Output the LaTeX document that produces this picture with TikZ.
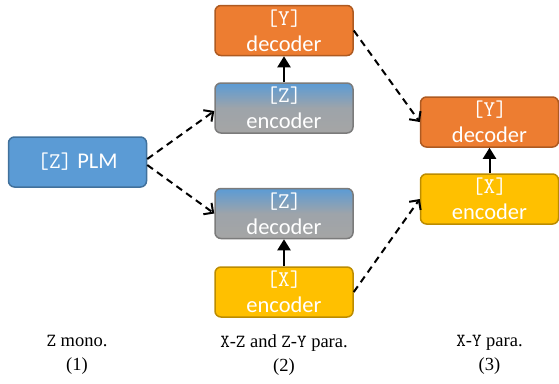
\documentclass[tikz,border=0pt]{standalone}
\usepackage{fontspec}
\setmainfont{Liberation Serif}
\newfontfamily\calib{Carlito}
\usetikzlibrary{arrows.meta}
\definecolor{plmblue}{HTML}{5B9BD5}
\definecolor{plmbluedk}{HTML}{41719C}
\definecolor{dorange}{HTML}{ED7D31}
\definecolor{dorangedk}{HTML}{AE5A21}
\definecolor{eyellow}{HTML}{FFC000}
\definecolor{eyellowdk}{HTML}{BC8C00}
\definecolor{zgray}{HTML}{A5A5A5}
\definecolor{zgraydk}{HTML}{7B7B7B}

\begin{document}
\begin{tikzpicture}[x=1pt, y=-1pt,
    box/.style={draw, line width=1.5pt, rounded corners=6pt, minimum width=138pt,
      minimum height=50pt, inner sep=0pt, align=center, text=white,
      font=\calib\fontsize{22.5}{26}\selectfont},
    plmbox/.style={box, fill=plmblue, draw=plmbluedk},
    decbox/.style={box, fill=dorange, draw=dorangedk},
    encbox/.style={box, fill=eyellow, draw=eyellowdk},
    zbox/.style={box, top color=plmblue, bottom color=zgray, middle color=zgray!90!plmblue, draw=zgraydk},
    dasharrow/.style={line width=2pt, dash pattern=on 7pt off 5pt, -{Straight Barb[length=7pt,width=14pt]}},
    solidarrow/.style={line width=2pt, -{Triangle[length=11pt,width=13pt]}},
    caption/.style={align=center, font=\fontsize{18.5}{24}\selectfont}]
  \useasboundingbox (0,0) rectangle (559,383);

  % (1)
  \node[plmbox] (plm) at (77.5,162) {{\ttfamily[Z]} PLM};
  % (2)
  \node[decbox] (ydec) at (284,30.5) {{\ttfamily[Y]}\\decoder};
  \node[zbox] (zenc) at (284,108) {{\ttfamily[Z]}\\encoder};
  \node[zbox] (zdec) at (284,213.5) {{\ttfamily[Z]}\\decoder};
  \node[encbox] (xenc) at (284,292) {{\ttfamily[X]}\\encoder};
  % (3)
  \node[decbox] (ydecr) at (489.5,122) {{\ttfamily[Y]}\\decoder};
  \node[encbox] (xencr) at (489.5,199) {{\ttfamily[X]}\\encoder};

  \draw[solidarrow] (zenc) -- (ydec);
  \draw[solidarrow] (xenc) -- (zdec);
  \draw[solidarrow] (xencr) -- (ydecr);

  \draw[dasharrow] (plm.east) ++(0,-3) -- ([yshift=-3pt]zenc.west);
  \draw[dasharrow] (plm.east) ++(0,3) -- (zdec.west);
  \draw[dasharrow] (ydec.east) -- (ydecr.west);
  \draw[dasharrow] (xenc.east) -- (xencr.west);

  \node[caption] (capa) at (77,355) {\texttt{Z} mono.\\(1)};
  \node[caption] (capb) at (284,355) {\texttt{X}-\texttt{Z} and \texttt{Z}-\texttt{Y} para.\\(2)};
  \node[caption] (capc) at (489.5,355) {\texttt{X}-\texttt{Y} para.\\(3)};
\end{tikzpicture}
\end{document}
